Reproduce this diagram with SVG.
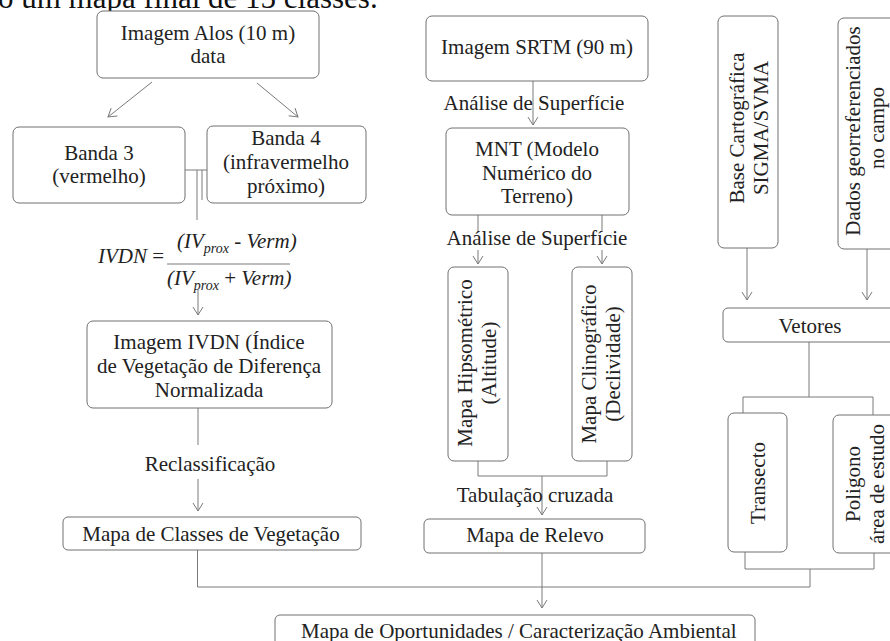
<svg xmlns="http://www.w3.org/2000/svg" width="890" height="641" viewBox="0 0 890 641">
<defs>
<style>
.box{fill:#fff;stroke:#707070;stroke-width:1}
.t{font-family:"Liberation Serif","Times New Roman",serif;font-size:21px;fill:#222;text-anchor:middle}
.m{font-family:"Liberation Serif","Times New Roman",serif;font-size:21px;fill:#222;font-style:italic}
.ln{stroke:#7a7a7a;stroke-width:1;fill:none}
.ar{marker-end:url(#ah)}
</style>
<marker id="ah" markerWidth="10" markerHeight="12" refX="9" refY="6" orient="auto" markerUnits="userSpaceOnUse" viewBox="0 0 10 12">
<path d="M1,1 L9,6 L1,11" fill="none" stroke="#7a7a7a" stroke-width="1"/>
</marker>
</defs>
<rect width="890" height="641" fill="#fff"/>
<text x="-2" y="8" style="font-family:'Liberation Serif','Times New Roman',serif;font-size:31px;fill:#111">o um mapa final de 15 classes.</text>

<g id="connectors">
<line class="ln ar" x1="152" y1="82" x2="108" y2="117"/>
<line class="ln ar" x1="257" y1="83" x2="298" y2="117"/>
<line class="ln" x1="185" y1="170" x2="207" y2="170"/>
<line class="ln" x1="197" y1="170" x2="197" y2="220"/>
<line class="ln" x1="202" y1="170" x2="202" y2="200"/>
<line class="ln ar" x1="198" y1="290" x2="198" y2="315"/>
<line class="ln" x1="198" y1="408" x2="198" y2="445"/>
<line class="ln ar" x1="198" y1="479" x2="198" y2="511"/>
<line class="ln ar" x1="533" y1="81" x2="533" y2="125"/>
<line class="ln" x1="478" y1="215" x2="478" y2="232"/>
<line class="ln" x1="602" y1="215" x2="602" y2="232"/>
<line class="ln ar" x1="478" y1="250" x2="478" y2="264"/>
<line class="ln ar" x1="602" y1="250" x2="602" y2="264"/>
<path class="ln" d="M478,461 V476 H607 V461"/>
<line class="ln ar" x1="542" y1="476" x2="542" y2="515"/>
<line class="ln ar" x1="542" y1="553" x2="542" y2="608"/>
<path class="ln" d="M197.5,550 V587 H810 V569"/>
<path class="ln" d="M745,552 V569 H874 V553"/>
<line class="ln ar" x1="747" y1="248" x2="747" y2="300"/>
<line class="ln ar" x1="867" y1="249" x2="867" y2="300"/>
<line class="ln" x1="809" y1="342" x2="809" y2="397"/>
<path class="ln" d="M743,413 V397 H873 V415"/>
</g>

<g id="alos">
<rect class="box" x="97" y="11" width="222" height="67" rx="6"/>
<text class="t" x="208" y="40">Imagem Alos (10 m)</text>
<text class="t" x="208" y="63">data</text>
</g>
<g id="banda3">
<rect class="box" x="13" y="127" width="172" height="76" rx="6"/>
<text class="t" x="99" y="160">Banda 3</text>
<text class="t" x="99" y="183">(vermelho)</text>
</g>
<g id="banda4">
<rect class="box" x="207" y="126" width="159" height="77" rx="6"/>
<text class="t" x="286" y="145">Banda 4</text>
<text class="t" x="286" y="169">(infravermelho</text>
<text class="t" x="286" y="193">próximo)</text>
</g>
<g id="formula">
<text class="m" x="98" y="263">IVDN<tspan font-style="normal"> =</tspan></text>
<text class="m" x="177" y="248" font-size="20">(IV<tspan font-size="14" dy="5">prox</tspan><tspan dy="-5"> - Verm)</tspan></text>
<line class="ln" x1="167" y1="264" x2="290" y2="264" stroke="#333"/>
<text class="m" x="167" y="285" font-size="20">(IV<tspan font-size="14" dy="5">prox</tspan><tspan dy="-5"><tspan font-style="normal"> + </tspan>Verm)</tspan></text>
</g>
<g id="ivdn">
<rect class="box" x="87" y="321" width="245" height="87" rx="6"/>
<text class="t" x="209" y="349">Imagem IVDN (Índice</text>
<text class="t" x="209" y="373">de Vegetação de Diferença</text>
<text class="t" x="209" y="397">Normalizada</text>
</g>
<g id="reclass">
<text class="t" x="210" y="471">Reclassificação</text>
</g>
<g id="classes">
<rect class="box" x="63" y="517" width="298" height="33" rx="5"/>
<text class="t" x="211" y="541">Mapa de Classes de Vegetação</text>
</g>

<g id="srtm">
<rect class="box" x="426" y="16" width="222" height="65" rx="6"/>
<text class="t" x="537" y="54">Imagem SRTM (90 m)</text>
</g>
<g id="analise1">
<text class="t" x="534" y="110">Análise de Superfície</text>
</g>
<g id="mnt">
<rect class="box" x="446" y="128" width="183" height="87" rx="6"/>
<text class="t" x="537" y="156">MNT (Modelo</text>
<text class="t" x="537" y="180">Numérico do</text>
<text class="t" x="537" y="203">Terreno)</text>
</g>
<g id="analise2">
<text class="t" x="537" y="245">Análise de Superfície</text>
</g>
<g id="hipso">
<rect class="box" x="448" y="267" width="60" height="194" rx="6"/>
<text class="t" transform="translate(472,363) rotate(-90)">Mapa Hipsométrico</text>
<text class="t" transform="translate(496,363) rotate(-90)">(Altitude)</text>
</g>
<g id="clino">
<rect class="box" x="572" y="267" width="60" height="194" rx="6"/>
<text class="t" transform="translate(596,364) rotate(-90)">Mapa Clinográfico</text>
<text class="t" transform="translate(620,364) rotate(-90)">(Declividade)</text>
</g>
<g id="tabulacao">
<text class="t" x="535" y="502">Tabulação cruzada</text>
</g>
<g id="relevo">
<rect class="box" x="424" y="519" width="221" height="34" rx="5"/>
<text class="t" x="535" y="542">Mapa de Relevo</text>
</g>

<g id="base">
<rect class="box" x="718" y="16" width="60" height="232" rx="6"/>
<text class="t" transform="translate(744,128) rotate(-90)">Base Cartográfica</text>
<text class="t" transform="translate(768,128) rotate(-90)">SIGMA/SVMA</text>
</g>
<g id="dados">
<rect class="box" x="838" y="18" width="62" height="231" rx="6"/>
<text class="t" transform="translate(860,131) rotate(-90)">Dados georreferenciados</text>
<text class="t" transform="translate(884,128) rotate(-90)">no campo</text>
</g>
<g id="vetores">
<rect class="box" x="723" y="308" width="175" height="34" rx="5"/>
<text class="t" x="810" y="333">Vetores</text>
</g>
<g id="transecto">
<rect class="box" x="728" y="413" width="59" height="139" rx="6"/>
<text class="t" transform="translate(765,483) rotate(-90)">Transecto</text>
</g>
<g id="poligono">
<rect class="box" x="833" y="415" width="65" height="138" rx="6"/>
<text class="t" transform="translate(860,484) rotate(-90)">Poligono</text>
<text class="t" transform="translate(884,484) rotate(-90)">área de estudo</text>
</g>

<g id="oportunidades">
<rect class="box" x="275" y="615" width="480" height="40" rx="5"/>
<text class="t" x="301" y="638" style="text-anchor:start">Mapa de Oportunidades / Caracterização Ambiental</text>
</g>
</svg>
